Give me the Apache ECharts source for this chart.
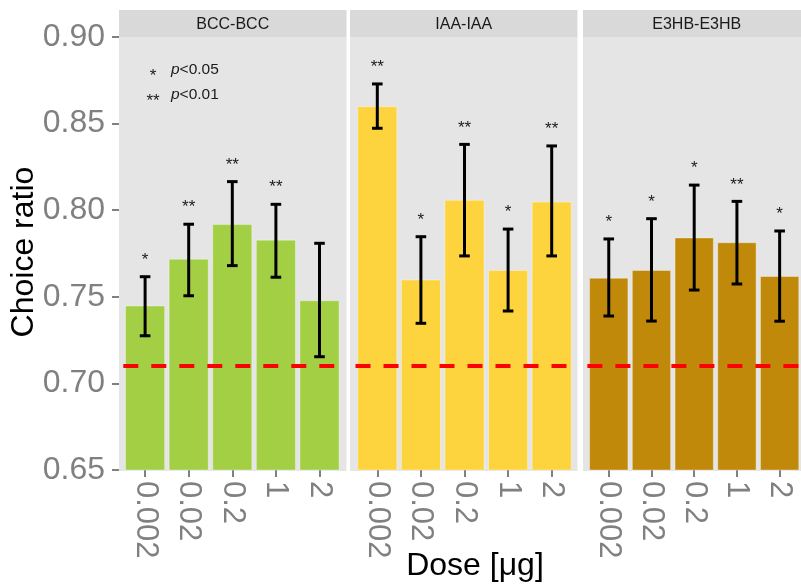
<!DOCTYPE html>
<html>
<head>
<meta charset="utf-8">
<script src="https://cdn.jsdelivr.net/npm/echarts@6/dist/echarts.min.js"></script>
<style>
  html, body { margin: 0; padding: 0; background: #ffffff; }
  #chart { width: 801px; height: 586px; }
</style>
</head>
<body>
<div id="chart"></div>
<script>
// Dose levels on the x axis of every panel
const doses = ['0.002', '0.02', '0.2', '1', '2'];
// Facet titles
const panelNames = ['BCC-BCC', 'IAA-IAA', 'E3HB-E3HB'];

// BCC-BCC: mean choice ratio, error bar bounds, significance marks
const bccMean = [0.745, 0.772, 0.792, 0.783, 0.748];
const bccLow  = [0.7275, 0.7506, 0.768, 0.7613, 0.7154];
const bccHigh = [0.7616, 0.7919, 0.8165, 0.8034, 0.7809];
const bccSig  = ['*', '**', '**', '**', ''];

// IAA-IAA
const iaaMean = [0.860, 0.760, 0.806, 0.7655, 0.805];
const iaaLow  = [0.8473, 0.7347, 0.7736, 0.7418, 0.7736];
const iaaHigh = [0.8729, 0.7847, 0.838, 0.7891, 0.8371];
const iaaSig  = ['**', '*', '**', '*', '**'];

// E3HB-E3HB
const e3hbMean = [0.761, 0.7655, 0.7843, 0.7815, 0.762];
const e3hbLow  = [0.7389, 0.736, 0.7539, 0.7574, 0.7359];
const e3hbHigh = [0.7834, 0.7951, 0.8145, 0.8051, 0.788];
const e3hbSig  = ['*', '*', '*', '**', '*'];

// Reference (chance) level drawn as a dashed line
const chanceLevel = 0.711;

// y axis range and tick step
const yMin = 0.65, yMax = 0.90, yStep = 0.05;

const panelMeans = [bccMean, iaaMean, e3hbMean];
const panelLows  = [bccLow, iaaLow, e3hbLow];
const panelHighs = [bccHigh, iaaHigh, e3hbHigh];
const panelSigs  = [bccSig, iaaSig, e3hbSig];
const panelColors = ['#A3CF44', '#FDD43E', '#C0890A'];

// Layout of the three facets
const FONT = '"Liberation Sans", Arial, Helvetica, sans-serif';
const panelLeft = [119, 350, 583];
const panelWidth = 227.5;
const gridLeft = [123.3, 355.5, 587.4];
const gridWidth = 218;
const gridTop = 37;
const gridHeight = 433;
const stripTop = 10;

const grids = [], xAxes = [], yAxes = [], series = [], graphics = [];

for (let k = 0; k < 3; k++) {
  grids.push({ left: gridLeft[k], top: gridTop, width: gridWidth, height: gridHeight });

  xAxes.push({
    type: 'category', gridIndex: k, data: doses,
    axisLine: { show: false },
    axisTick: { show: true, alignWithLabel: true, length: 7, lineStyle: { color: '#808080', width: 2 } },
    axisLabel: { rotate: -90, margin: 11, color: '#808080', fontSize: 31, fontFamily: FONT },
    splitLine: { show: false }
  });

  yAxes.push({
    type: 'value', gridIndex: k, min: yMin, max: yMax, interval: yStep,
    offset: k === 0 ? 4.3 : 0,
    show: k === 0,
    axisLine: { show: false },
    axisTick: { show: k === 0, length: 7, lineStyle: { color: '#808080', width: 2 } },
    axisLabel: {
      show: k === 0, margin: 14, color: '#808080', fontSize: 32, fontFamily: FONT,
      formatter: v => v.toFixed(2)
    },
    splitLine: { show: false }
  });

  series.push({
    type: 'bar', xAxisIndex: k, yAxisIndex: k,
    data: panelMeans[k],
    barCategoryGap: '8%',
    itemStyle: { color: panelColors[k], borderColor: 'rgba(255,255,255,0.35)', borderWidth: 1 },
    silent: true,
    z: 2,
    markLine: {
      silent: true, symbol: 'none', label: { show: false },
      lineStyle: { color: '#FF0000', type: [15, 13], width: 4 },
      data: [{ yAxis: chanceLevel }],
      z: 5
    }
  });

  const sigs = panelSigs[k];
  series.push({
    type: 'custom', xAxisIndex: k, yAxisIndex: k,
    data: panelMeans[k].map((_, i) => [i, panelLows[k][i], panelHighs[k][i]]),
    encode: { x: 0, y: [1, 2] },
    silent: true,
    z: 4,
    renderItem: (params, api) => {
      const i = api.value(0);
      const lo = api.coord([i, api.value(1)]);
      const hi = api.coord([i, api.value(2)]);
      const hw = 5.3;
      const st = { stroke: '#000000', lineWidth: 3 };
      const children = [
        { type: 'line', shape: { x1: lo[0], y1: lo[1], x2: hi[0], y2: hi[1] }, style: st },
        { type: 'line', shape: { x1: lo[0] - hw, y1: lo[1], x2: lo[0] + hw, y2: lo[1] }, style: st },
        { type: 'line', shape: { x1: hi[0] - hw, y1: hi[1], x2: hi[0] + hw, y2: hi[1] }, style: st }
      ];
      const mark = sigs[params.dataIndex];
      if (mark) {
        children.push({
          type: 'text',
          style: {
            text: mark, x: hi[0], y: hi[1] - 8,
            align: 'center', verticalAlign: 'bottom',
            font: '17px ' + FONT, fill: '#1A1A1A'
          }
        });
      }
      return { type: 'group', children: children };
    }
  });

  // facet panel background and strip
  graphics.push({
    type: 'rect', z: -10, silent: true,
    shape: { x: panelLeft[k], y: gridTop, width: panelWidth, height: gridHeight + 1 },
    style: { fill: '#E5E5E5' }
  });
  graphics.push({
    type: 'rect', z: -10, silent: true,
    shape: { x: panelLeft[k], y: stripTop, width: panelWidth, height: gridTop - stripTop },
    style: { fill: '#D9D9D9' }
  });
  graphics.push({
    type: 'text', z: 10, silent: true,
    style: {
      text: panelNames[k], x: panelLeft[k] + panelWidth / 2, y: 25,
      align: 'center', verticalAlign: 'middle',
      font: '16px ' + FONT, fill: '#1A1A1A'
    }
  });
}

// significance key inside the first panel
const keyRows = [['*', 'p', '<0.05', 70], ['**', 'p', '<0.01', 95]];
keyRows.forEach(r => {
  graphics.push({
    type: 'text', z: 10, silent: true,
    style: { text: r[0], x: 153, y: r[3] + 6, align: 'center', verticalAlign: 'middle', font: '17px ' + FONT, fill: '#1A1A1A' }
  });
  graphics.push({
    type: 'text', z: 10, silent: true,
    style: {
      text: '{i|' + r[1] + '}' + r[2], x: 171, y: r[3], align: 'left', verticalAlign: 'middle',
      font: '15.5px ' + FONT, fill: '#1A1A1A',
      rich: { i: { fontStyle: 'italic', fontSize: 15.5, fontFamily: FONT, fill: '#1A1A1A' } }
    }
  });
});

// axis titles
graphics.push({
  type: 'text', z: 10, silent: true,
  style: { text: 'Dose [μg]', x: 475, y: 566, align: 'center', verticalAlign: 'middle', font: '32px ' + FONT, fill: '#000000' }
});
graphics.push({
  type: 'text', z: 10, silent: true, rotation: Math.PI / 2, x: 24, y: 252,
  style: { text: 'Choice ratio', x: 0, y: 0, align: 'center', verticalAlign: 'middle', font: '32px ' + FONT, fill: '#000000' }
});

const chart = echarts.init(document.getElementById('chart'), null, { renderer: 'canvas' });
chart.setOption({
  animation: false,
  backgroundColor: '#FFFFFF',
  grid: grids,
  xAxis: xAxes,
  yAxis: yAxes,
  series: series,
  graphic: { elements: graphics }
});
</script>
</body>
</html>
